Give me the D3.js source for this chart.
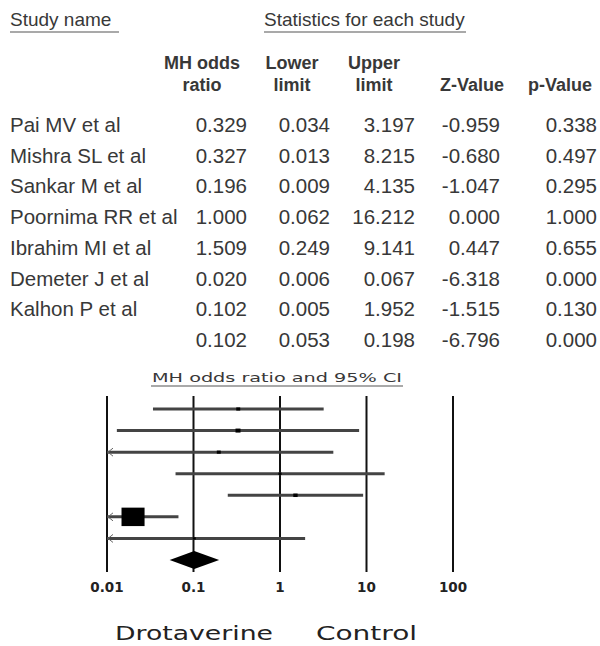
<!DOCTYPE html>
<html>
<head>
<meta charset="utf-8">
<script src="https://cdn.jsdelivr.net/npm/d3@7"></script>
<style>
  html, body { margin: 0; padding: 0; background: #fff; }
  svg { display: block; }
</style>
</head>
<body>
<svg id="chart" width="600" height="646"></svg>
<script>
// Forest plot: drotaverine vs control, Mantel-Haenszel odds ratios
const studies  = ["Pai MV et al", "Mishra SL et al", "Sankar M et al", "Poornima RR et al",
                  "Ibrahim MI et al", "Demeter J et al", "Kalhon P et al"];
const oddsRatio = [0.329, 0.327, 0.196, 1.000, 1.509, 0.020, 0.102];
const lowerCI   = [0.034, 0.013, 0.009, 0.062, 0.249, 0.006, 0.005];
const upperCI   = [3.197, 8.215, 4.135, 16.212, 9.141, 0.067, 1.952];
const zValues   = [-0.959, -0.680, -1.047, 0.000, 0.447, -6.318, -1.515];
const pValues   = [0.338, 0.497, 0.295, 1.000, 0.655, 0.000, 0.130];
const weights   = [2.5, 4, 2.5, 1.5, 3, 85, 1.5];   // relative weight (%)

const pooled = { or: 0.102, lower: 0.053, upper: 0.198, z: -6.796, p: 0.000 };

const axisTicks  = [0.01, 0.1, 1, 10, 100];
const tickLabels = ["0.01", "0.1", "1", "10", "100"];
const favourLeft = "Drotaverine";
const favourRight = "Control";

const svg = d3.select("#chart");
const fmt = d3.formatLocale({ decimal: ".", thousands: ",", grouping: [3], currency: ["", ""], minus: "-" }).format(".3f");

const tableFont = "'Liberation Sans', Arial, sans-serif";
const plotFont  = "'DejaVu Sans', Verdana, sans-serif";
const textColor = "#383838";

// ---- table header ----
const head = svg.append("g").attr("font-family", tableFont).attr("fill", textColor);
head.append("text").attr("x", 10).attr("y", 26).attr("font-size", 19).text("Study name");
head.append("line").attr("x1", 10).attr("x2", 119).attr("y1", 32).attr("y2", 32)
    .attr("stroke", "#555").attr("stroke-width", 1.2);
head.append("text").attr("x", 264).attr("y", 26).attr("font-size", 19).text("Statistics for each study");
head.append("line").attr("x1", 264).attr("x2", 466).attr("y1", 32).attr("y2", 32)
    .attr("stroke", "#555").attr("stroke-width", 1.2);

const colRight = [247, 330, 415, 500, 597];
const colHeads = [["MH odds", "ratio"], ["Lower", "limit"], ["Upper", "limit"], ["", "Z-Value"], ["", "p-Value"]];
const colHeadCenter = [202, 292, 374, 472, 560];
colHeads.forEach((lines, i) => {
  lines.forEach((t, j) => {
    if (!t) return;
    head.append("text")
      .attr("x", colHeadCenter[i]).attr("y", 69 + j * 22)
      .attr("text-anchor", "middle").attr("font-size", 18).attr("font-weight", "bold")
      .text(t);
  });
});

// ---- table body ----
const rowY = d3.scalePoint().domain(d3.range(studies.length + 1)).range([125, 340]);
const body = svg.append("g").attr("font-family", tableFont).attr("fill", textColor).attr("font-size", 20.5);

const rows = studies.map((s, i) => [oddsRatio[i], lowerCI[i], upperCI[i], zValues[i], pValues[i]]);
rows.push([pooled.or, pooled.lower, pooled.upper, pooled.z, pooled.p]);

body.selectAll("text.name").data(studies).join("text")
  .attr("class", "name")
  .attr("x", 10).attr("y", (d, i) => rowY(i) + 7)
  .text(d => d);

rows.forEach((vals, i) => {
  body.selectAll(null).data(vals).join("text")
    .attr("x", (d, j) => colRight[j]).attr("y", rowY(i) + 7)
    .attr("text-anchor", "end")
    .text(d => fmt(d));
});

// ---- forest plot ----
const x = d3.scaleLog().domain([0.01, 100]).range([107, 453]);
const plotY = d3.scalePoint().domain(d3.range(studies.length + 1)).range([409, 560]);
const plot = svg.append("g");

plot.append("text")
  .attr("x", 277).attr("y", 382).attr("text-anchor", "middle")
  .attr("font-family", plotFont).attr("font-size", 13).attr("fill", textColor)
  .attr("textLength", 250).attr("lengthAdjust", "spacingAndGlyphs")
  .text("MH odds ratio and 95% CI");
plot.append("line").attr("x1", 151).attr("x2", 403).attr("y1", 386).attr("y2", 386)
  .attr("stroke", "#555").attr("stroke-width", 1.2);

// vertical reference lines at each decade
plot.selectAll("line.grid").data(axisTicks).join("line")
  .attr("class", "grid")
  .attr("x1", d => x(d)).attr("x2", d => x(d))
  .attr("y1", 396).attr("y2", 572)
  .attr("stroke", "#111").attr("stroke-width", 2);

// confidence intervals, clipped to the axis domain
const lo = x.domain()[0], hi = x.domain()[1];
studies.forEach((s, i) => {
  const y = plotY(i);
  const l = Math.max(lowerCI[i], lo), u = Math.min(upperCI[i], hi);
  plot.append("line")
    .attr("x1", x(l)).attr("x2", x(u)).attr("y1", y).attr("y2", y)
    .attr("stroke", "#444").attr("stroke-width", 3);
  if (lowerCI[i] < lo) {
    plot.append("path")
      .attr("d", `M${x(lo) + 6},${y - 4} L${x(lo) + 1},${y} L${x(lo) + 6},${y + 4}`)
      .attr("fill", "none").attr("stroke", "#666").attr("stroke-width", 1);
  }
  const w = 2.5 * Math.sqrt(weights[i]);
  const h = 2.0 * Math.sqrt(weights[i]);
  plot.append("rect")
    .attr("x", x(oddsRatio[i]) - w / 2).attr("y", y - h / 2)
    .attr("width", w).attr("height", h)
    .attr("fill", "#000");
});

// pooled estimate diamond
const yd = plotY(studies.length);
plot.append("path")
  .attr("d", `M${x(pooled.lower)},${yd} L${x(pooled.or)},${yd - 9} L${x(pooled.upper)},${yd} L${x(pooled.or)},${yd + 9} Z`)
  .attr("fill", "#000");

// axis labels
plot.selectAll("text.tick").data(axisTicks).join("text")
  .attr("class", "tick")
  .attr("x", d => x(d)).attr("y", 592)
  .attr("text-anchor", "middle")
  .attr("font-family", plotFont).attr("font-size", 13.5).attr("font-weight", "bold").attr("fill", "#222")
  .text((d, i) => tickLabels[i]);

plot.append("text")
  .attr("x", 115).attr("y", 640)
  .attr("font-family", plotFont).attr("font-size", 20).attr("fill", "#222")
  .attr("textLength", 158).attr("lengthAdjust", "spacingAndGlyphs")
  .text(favourLeft);
plot.append("text")
  .attr("x", 316).attr("y", 640)
  .attr("font-family", plotFont).attr("font-size", 20).attr("fill", "#222")
  .attr("textLength", 101).attr("lengthAdjust", "spacingAndGlyphs")
  .text(favourRight);
</script>
</body>
</html>
